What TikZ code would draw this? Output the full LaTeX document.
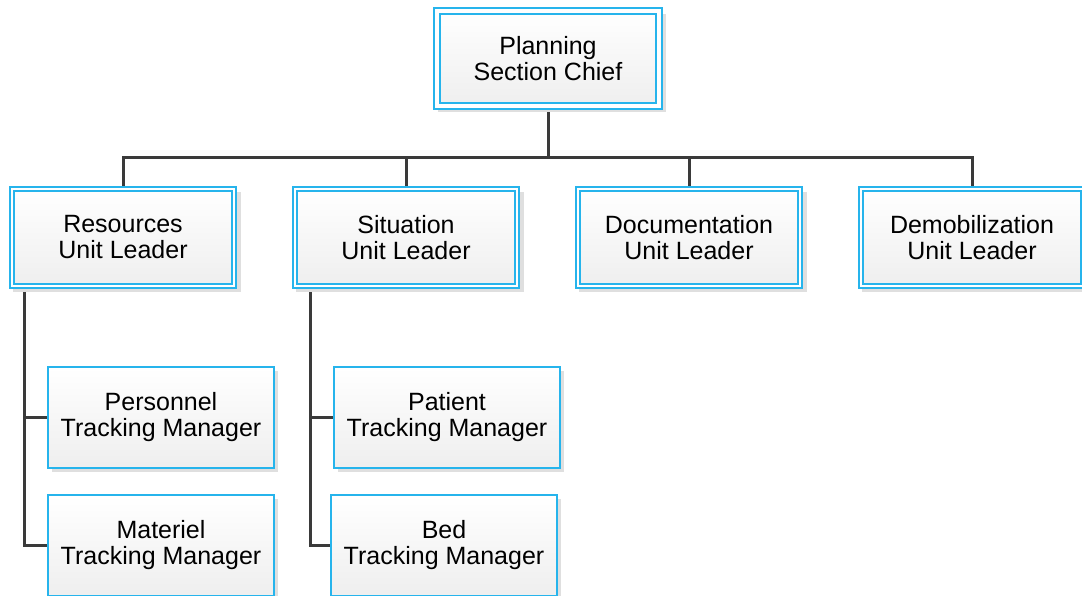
\documentclass[tikz,border=0pt]{standalone}
\usepackage{fontspec}
\setmainfont{Liberation Sans}
\usetikzlibrary{shadows,backgrounds}
\definecolor{boxblue}{RGB}{38,180,236}
\definecolor{linkgray}{RGB}{58,58,58}
\tikzset{
  unit/.style={draw=boxblue,line width=2pt,double=white,double distance=2pt,
    top color=white,bottom color=gray!13,minimum width=222pt,minimum height=97pt,
    inner sep=0pt,align=center,font=\fontsize{25}{26}\selectfont,
    drop shadow={shadow xshift=4pt,shadow yshift=-4pt,shadow scale=1.03,fill=gray!25,opacity=1}},
  chief/.style={unit,double distance=4pt,minimum height=95pt},
  manager/.style={draw=boxblue,line width=1.6pt,top color=white,bottom color=gray!13,
    minimum width=226pt,minimum height=101pt,inner sep=0pt,align=center,
    font=\fontsize{25}{26}\selectfont,
    drop shadow={shadow xshift=4pt,shadow yshift=-4pt,fill=gray!25,opacity=1}},
  link/.style={draw=linkgray,line width=3pt}
}
\begin{document}
\begin{tikzpicture}[x={(1pt,0)},y={(0,-1pt)}]
      \useasboundingbox (0,0) rectangle (1082,596);
      \node[chief] (P) at (548,58.5) {Planning\\Section Chief};
      \foreach \name [count=\i] in {Resources,Situation,Documentation,Demobilization}
      { \node[unit] (U-\i) at (123+283*\i-283,237.5) {\name\\Unit Leader};}
      \foreach \name/\x/\y [count=\i] in {Personnel/161/417.5,Materiel/161/545.5,
                                          Patient/447/417.5,Bed/444/545.5}
      { \node[manager] (M-\i) at (\x,\y) {\name\\Tracking Manager};}
      \coordinate (bus) at (548,158);
      \begin{pgfonlayer}{background}
      \draw[link] (P.south) -- (bus);
      \foreach \i in {1,...,4}
      { \draw[link] (bus) -| (U-\i.north);}
      \foreach \i in {1,2}
      { \draw[link] ([xshift=13pt]U-1.south west) |- (M-\i.west);}
      \foreach \i in {3,4}
      { \draw[link] ([xshift=16pt]U-2.south west) |- (M-\i.west);}
      \end{pgfonlayer}
\end{tikzpicture}
\end{document}
